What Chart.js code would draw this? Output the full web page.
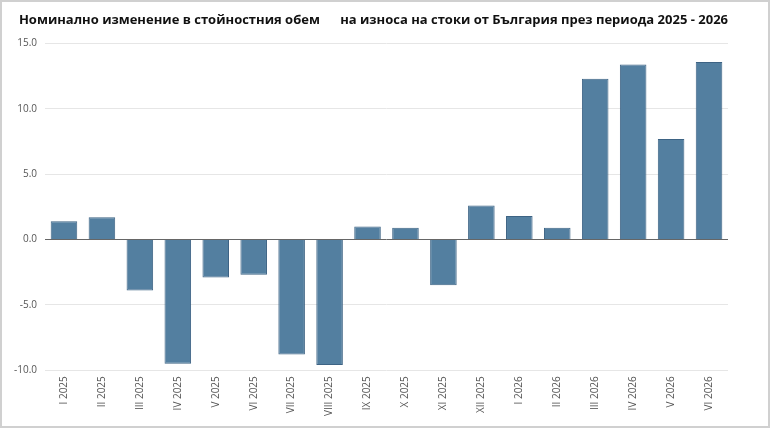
<!DOCTYPE html>
<html>
<head>
<meta charset="utf-8">
<script src="https://cdn.jsdelivr.net/npm/chart.js@4"></script>
<style>
  html, body { margin: 0; padding: 0; background: #fff; }
  #wrap { width: 766px; height: 424px; border: 2px solid #d0d0d0; box-sizing: content-box; }
</style>
</head>
<body>
<div id="wrap"><canvas id="chart" width="766" height="424"></canvas></div>
<script>
// ====== Data ======
const periods = ['I 2025', 'II 2025', 'III 2025', 'IV 2025', 'V 2025', 'VI 2025', 'VII 2025', 'VIII 2025', 'IX 2025', 'X 2025', 'XI 2025', 'XII 2025', 'I 2026', 'II 2026', 'III 2026', 'IV 2026', 'V 2026', 'VI 2026'];
const changes = [1.4, 1.7, -3.9, -9.5, -2.9, -2.7, -8.8, -9.6, 1.0, 0.9, -3.5, 2.6, 1.8, 0.9, 12.3, 13.4, 7.7, 13.6];
const yTicks = [-10, -5, 0, 5, 10, 15];

// ====== Bar chart ======
const ctx = document.getElementById('chart').getContext('2d');
new Chart(ctx, {
    type: 'bar',
    data: {
        labels: periods,
        datasets: [{
            data: changes,
            backgroundColor: '#537fa0',
            borderColor: '#3d6384',
            borderWidth: 1,
            categoryPercentage: 0.7,
            barPercentage: 1
        }]
    },
    options: {
        responsive: false,
        animation: false,
        layout: { padding: { left: 4, right: 40, top: 4, bottom: 4 } },
        plugins: {
            legend: { display: false },
            title: {
                display: true,
                text: 'Номинално изменение в стойностния обем      на износа на стоки от България през периода 2025 - 2026',
                align: 'end',
                color: '#111',
                font: { family: 'Open Sans', size: 13, weight: 'bold' },
                padding: { top: 6, bottom: 16 }
            },
            tooltip: { enabled: false }
        },
        scales: {
            x: {
                grid: { display: false, drawTicks: false },
                border: { display: false },
                ticks: {
                    color: '#555',
                    font: { family: 'Open Sans', size: 10 },
                    maxRotation: 90,
                    minRotation: 90,
                    padding: 6
                }
            },
            y: {
                min: -10,
                max: 15,
                afterBuildTicks: axis => { axis.ticks = yTicks.map(v => ({ value: v })); },
                grid: {
                    color: ctx => ctx.tick && ctx.tick.value === 0 ? '#666' : '#e6e6e6',
                    drawTicks: false
                },
                border: { display: false },
                ticks: {
                    color: '#555',
                    font: { family: 'Open Sans', size: 10 },
                    padding: 8,
                    callback: v => v.toFixed(1)
                }
            }
        }
    }
});
</script>
</body>
</html>
